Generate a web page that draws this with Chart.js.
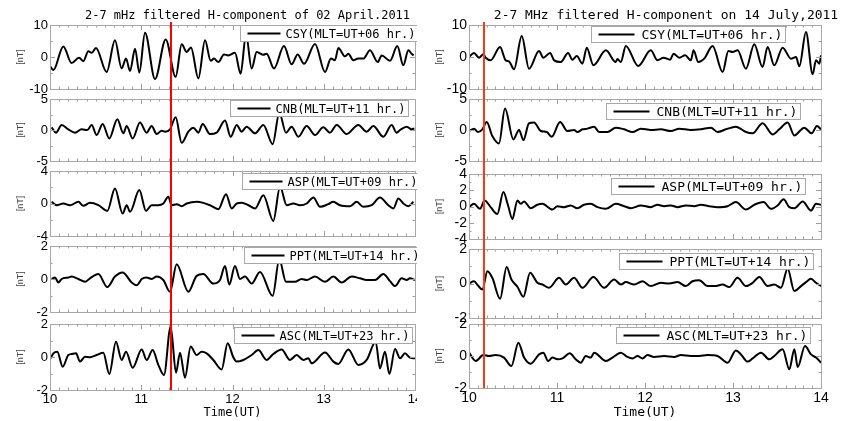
<!DOCTYPE html>
<html>
<head>
<meta charset="utf-8">
<script src="https://cdn.jsdelivr.net/npm/chart.js@4.4.1/dist/chart.umd.min.js"></script>
<style>
  body { margin: 0; background: #fff; }
  #page { position: relative; width: 849px; height: 421px; overflow: hidden; background: #fff; }
  .col { position: absolute; top: 0; height: 421px; overflow: hidden; }
  .col canvas { position: absolute; left: 0; }
</style>
</head>
<body>
<div id="page">
  <div class="col" id="colApr" style="left:0px;width:417px"></div>
  <div class="col" id="colJul" style="left:425px;width:424px"></div>
</div>
<script>
// ---- data (hours UT, nT) ----
const stations = ['CSY(MLT=UT+06 hr.)', 'CNB(MLT=UT+11 hr.)', 'ASP(MLT=UT+09 hr.)', 'PPT(MLT=UT+14 hr.)', 'ASC(MLT=UT+23 hr.)'];
const titleApr = '2-7 mHz filtered H-component of 02 April.2011';
const titleJul = '2-7 MHz filtered H-component on 14 July,2011';
const xLabel = 'Time(UT)';
const yLabel = '[nT]';
const eventApr = 11.33;
const eventJul = 10.17;
const yMaxApr = [10, 5, 4, 2, 2];
const yStepApr = [10, 5, 4, 2, 2];
const yMaxJul = [10, 5, 4, 2, 2];
const yStepJul = [10, 5, 2, 2, 2];

// 02 April 2011
const aprCsyT = [10.007,10.037,10.146,10.237,10.318,10.365,10.420,10.457,10.504,10.621,10.712,10.785,10.833,10.877,10.932,10.979,11.041,11.151,11.268,11.377,11.443,11.498,11.545,11.626,11.699,11.761,11.797,11.845,11.907,11.954,12.027,12.089,12.148,12.210,12.265,12.338,12.374,12.455,12.564,12.648,12.714,12.784,12.904,13.014,13.079,13.123,13.160,13.233,13.269,13.324,13.379,13.434,13.507,13.591,13.635,13.726,13.806,13.872,13.927,13.963,13.985];
const aprCsyV = [-3.1,-4.1,3.3,-1.9,-0.2,-1.3,1.8,1.3,2.8,-4.7,5.2,-3.6,-0.5,-4.4,2.6,-4.9,7.6,-6.9,5.5,-6.2,4.0,1.6,3.0,-6.7,5.2,-1.2,-0.5,-1.6,0.8,0.5,1.3,-5.2,7.0,-3.6,1.6,0.7,1.0,-3.6,3.4,-2.3,0.8,-2.1,4.1,-4.7,-0.5,-1.0,2.8,0.2,1.0,-1.0,-0.5,-0.5,2.1,-1.6,0.5,-1.2,3.4,-2.6,2.1,1.0,0.5];
const aprCnbT = [10.018,10.066,10.128,10.201,10.274,10.347,10.409,10.457,10.511,10.577,10.650,10.738,10.804,10.840,10.906,10.986,11.059,11.114,11.169,11.224,11.260,11.315,11.377,11.443,11.516,11.571,11.626,11.673,11.753,11.826,11.918,11.980,12.046,12.100,12.155,12.247,12.338,12.440,12.513,12.586,12.648,12.721,12.813,12.904,12.995,13.068,13.142,13.251,13.379,13.470,13.543,13.653,13.744,13.799,13.836,13.909,13.963,13.993];
const aprCnbV = [0.43,-0.43,0.82,0.11,-0.43,0.11,0,0.82,-0.82,0.98,-1.36,1.74,-0.54,0.65,-1.36,1.2,-0.43,0.65,-0.65,-0.11,-0.27,0.11,2.07,-2.07,-0.27,0.38,-0.43,0.98,-0.65,-0.43,1.52,-1.09,0.82,-0.27,0.54,-0.54,0.82,-2.28,2.8,-0.43,0.54,-1.09,0.65,-0.82,0.43,-0.43,0.82,-0.65,0.82,-0.27,0.65,-1.09,0.82,-0.43,0,0.54,0.11,0.27];
const aprAspT = [10.018,10.073,10.146,10.219,10.311,10.365,10.438,10.530,10.628,10.712,10.796,10.840,10.877,10.979,11.052,11.114,11.187,11.242,11.297,11.333,11.388,11.443,11.498,11.607,11.680,11.753,11.845,11.929,11.991,12.046,12.100,12.174,12.247,12.338,12.447,12.521,12.594,12.667,12.740,12.813,12.886,12.959,13.050,13.105,13.178,13.288,13.361,13.434,13.525,13.616,13.708,13.763,13.817,13.872,13.927,13.982];
const aprAspV = [0.21,-0.21,0,-0.21,0.21,-0.29,0.08,-0.21,-0.91,1.86,-1.24,-0.21,-1.03,1.65,-0.91,-0.21,-0.21,0,0.82,-0.21,-0.08,-0.33,0,0.21,0.08,-0.21,-0.7,1.15,-0.62,0,0.08,-0.21,-0.62,1.03,-2.14,2.06,-0.21,0,-0.21,0,0.74,-0.41,-0.08,0.21,-0.21,-0.33,0.21,-0.41,-0.21,0.74,-0.21,-0.62,0.62,0,-0.33,0.21];
const aprPptT = [10.018,10.055,10.091,10.128,10.201,10.237,10.311,10.384,10.438,10.530,10.628,10.712,10.796,10.895,10.950,11.005,11.059,11.114,11.169,11.242,11.315,11.388,11.516,11.607,11.680,11.790,11.863,11.918,11.965,12.027,12.082,12.137,12.210,12.301,12.440,12.513,12.586,12.685,12.758,12.813,12.904,13.014,13.105,13.196,13.306,13.397,13.470,13.562,13.653,13.726,13.781,13.854,13.909,13.945,14.0];
const aprPptV = [0,0.09,-0.21,0,0.09,0.15,0,-0.17,0.04,0.3,-0.49,0.15,0.4,-0.21,-0.38,0,0.09,0,0.15,-0.06,-0.77,0.89,-0.77,0.19,0.3,-0.28,-0.06,0.79,-0.34,0.79,0,0.15,-0.28,0.43,-1.02,1.2,-0.17,-0.17,0,-0.06,0.15,-0.17,0.15,-0.21,0.15,0.04,-0.06,-0.06,0.3,-0.13,-0.43,0.04,-0.06,0.04,-0.06];
const aprAscT = [10.007,10.037,10.080,10.139,10.201,10.237,10.285,10.329,10.384,10.438,10.511,10.584,10.650,10.723,10.785,10.833,10.906,11.005,11.059,11.125,11.187,11.249,11.322,11.381,11.425,11.479,11.542,11.607,11.662,11.717,11.790,11.881,11.947,12.009,12.046,12.119,12.210,12.283,12.374,12.447,12.539,12.630,12.703,12.776,12.831,12.868,13.014,13.105,13.160,13.269,13.379,13.470,13.569,13.616,13.671,13.719,13.781,13.836,13.890,13.945,14.0];
const aprAscV = [-0.08,0.22,0.32,-0.59,0.12,0.18,0.22,-0.28,0.02,-0.02,0.12,0.26,-1.03,0.93,-0.18,0.32,-0.65,0.46,-0.18,0.42,-0.48,-1.09,1.84,-0.95,0.26,-1.25,0.63,0.12,0.32,0.22,-0.18,-0.75,0.83,-0.02,-0.28,-0.18,0.12,0.42,-0.18,0.18,0.46,-0.18,0.12,-0.18,-0.08,-0.38,0.28,-0.28,-0.42,0.46,-0.48,-0.18,0.93,-0.69,0.32,-1.03,0.48,-0.08,0.22,-0.04,-0.08];

// 14 July 2011
const julCsyT = [10.0,10.057,10.114,10.163,10.190,10.246,10.353,10.417,10.455,10.512,10.599,10.682,10.796,10.845,10.921,10.967,11.043,11.126,11.175,11.225,11.289,11.338,11.414,11.555,11.668,11.687,11.725,11.782,11.922,12.066,12.142,12.210,12.286,12.324,12.389,12.457,12.521,12.552,12.605,12.673,12.768,12.882,12.947,12.995,13.052,13.147,13.242,13.336,13.393,13.469,13.564,13.659,13.716,13.754,13.829,13.905,13.943,13.981,14.0];
const julCsyV = [0,1.25,-0.21,0.83,-0.21,-1.04,3.13,-1.04,-1.35,-3.85,6.56,-3.65,1.88,-0.21,1.25,-1.04,-1.56,1.25,-0.83,0.31,-2.08,2.92,-2.6,2.08,-1.56,-0.63,-1.56,3.44,-2.81,2.08,-1.04,-0.21,-0.83,1.04,-0.21,0.52,-1.04,2.08,-1.56,-0.52,3.44,-4.69,1.88,1.56,2.08,-3.65,3.96,-3.13,3.13,-2.6,2.92,-0.52,0,-2.92,7.81,-5.42,-1.04,-2.08,0.52];
const julCnbT = [10.0,10.057,10.102,10.152,10.201,10.265,10.341,10.409,10.504,10.569,10.618,10.682,10.739,10.815,10.883,10.940,11.035,11.118,11.194,11.232,11.289,11.346,11.422,11.479,11.573,11.668,11.763,11.858,11.953,12.066,12.180,12.294,12.389,12.521,12.635,12.749,12.825,12.919,13.033,13.147,13.223,13.336,13.450,13.526,13.621,13.697,13.810,13.894,13.954,14.0];
const julCnbV = [-0.16,0.22,-0.33,0.11,1.3,-0.98,-2.17,3.48,-1.52,0,-1.63,1.09,1.2,-0.16,-0.33,-1.09,1.3,-0.16,0,-0.33,0.11,0.22,0.54,-0.33,-0.33,0.38,0.11,-0.33,0.22,0,0.11,-0.16,0.22,0,0.11,0.38,-0.33,0.11,0.54,-0.33,-0.54,1.09,-0.71,0.11,1.2,-0.87,0.38,-0.54,0.65,0.11];
const julAspT = [10.0,10.057,10.125,10.178,10.246,10.322,10.391,10.444,10.493,10.550,10.588,10.626,10.701,10.777,10.834,10.948,11.005,11.081,11.156,11.232,11.308,11.384,11.460,11.555,11.668,11.763,11.839,11.953,12.066,12.142,12.218,12.294,12.370,12.464,12.559,12.635,12.730,12.825,12.938,13.033,13.147,13.242,13.348,13.431,13.507,13.575,13.640,13.697,13.792,13.886,13.943,14.0];
const julAspV = [-0.08,0.33,-0.29,0.75,-0.08,-0.92,1.79,0.13,-1.54,0.75,0.33,0.63,-0.21,0.21,0.33,-0.38,0.04,-0.08,0.13,-0.21,0.21,0.33,-0.08,-0.29,0.33,0.04,-0.21,0.13,-0.08,0.21,0.04,0.13,-0.08,0.13,0.04,0.21,0.04,-0.08,0.04,0.54,-0.38,0.21,0.54,-0.29,0.13,0.88,-0.08,-0.21,0.63,-0.5,0.33,0.21];
const julPptT = [10.0,10.057,10.102,10.152,10.209,10.265,10.353,10.428,10.482,10.550,10.618,10.694,10.777,10.834,10.910,11.024,11.100,11.194,11.289,11.414,11.536,11.649,11.725,11.782,11.877,11.972,12.066,12.180,12.275,12.370,12.464,12.540,12.616,12.711,12.806,12.882,12.957,13.052,13.147,13.223,13.299,13.393,13.469,13.545,13.621,13.697,13.773,13.829,13.886,13.943,14.0];
const julPptV = [0,0.13,-0.12,-0.35,0.71,0.33,-0.88,0.96,0.23,-0.19,-0.77,0.62,0.04,-0.06,-0.25,0.33,-0.06,0.33,-0.25,0.37,-0.25,0.23,-0.06,0.08,-0.06,0.13,-0.15,0.04,0,0.08,-0.15,0.13,0.19,-0.15,-0.15,-0.06,-0.21,0.33,-0.15,0.04,0.38,-0.15,-0.06,-0.25,0.85,-0.44,-0.15,0.08,0.27,0.04,-0.15];
const julAscT = [10.0,10.076,10.163,10.227,10.303,10.398,10.482,10.561,10.626,10.701,10.796,10.845,10.899,10.948,11.005,11.062,11.145,11.213,11.270,11.327,11.384,11.422,11.555,11.630,11.725,11.801,11.858,11.915,11.972,12.028,12.104,12.218,12.332,12.408,12.521,12.616,12.711,12.825,12.938,13.033,13.090,13.166,13.223,13.318,13.412,13.469,13.564,13.640,13.697,13.735,13.818,13.886,13.943,14.0];
const julAscV = [0.21,-0.31,0.06,0,0.06,-0.1,-0.63,0.83,-0.1,-0.48,0.1,0.21,-0.31,-0.1,-0.21,-0.15,0.17,-0.21,-0.42,0,-0.1,0.21,-0.31,-0.1,0.21,-0.06,-0.15,0,-0.15,0.06,-0.06,0,-0.06,0.06,0,0,0.06,0,-0.42,0.35,0.1,-0.35,-0.15,0.21,-0.21,0,0.42,-0.83,0.42,-0.69,0.63,0.1,-0.1,-0.42];

// ---- layout of the two figure columns ----
const MONO = "'DejaVu Sans Mono', monospace";
const SANS = "'Liberation Sans', Arial, sans-serif";

const cols = [
  {
    el: 'colApr', left: 0, width: 417, plotLeft: 50, plotRight: 415,
    tops: [25, 99, 171, 246, 324], bottoms: [89, 161, 236, 312, 390],
    times: [aprCsyT, aprCnbT, aprAspT, aprPptT, aprAscT],
    values: [aprCsyV, aprCnbV, aprAspV, aprPptV, aprAscV],
    yMax: yMaxApr, yStep: yStepApr, event: eventApr, eventColor: '#ff0000',
    title: titleApr, titleShift: 15, monoSize: 12, tickSize: 13, nTPad: 15,
    boxDx: [190, 180, 192, 194, 184], boxDy: [0, 1, 2, 1, 3],
    lineX: 7, lineLen: 33, textX: 45
  },
  {
    el: 'colJul', left: 425, width: 424, plotLeft: 469, plotRight: 821,
    tops: [25, 99, 174, 249, 324], bottoms: [89, 161, 239, 318, 388],
    times: [julCsyT, julCnbT, julAspT, julPptT, julAscT],
    values: [julCsyV, julCnbV, julAspV, julPptV, julAscV],
    yMax: yMaxJul, yStep: yStepJul, event: eventJul, eventColor: '#f83a14',
    title: titleJul, titleShift: 21, monoSize: 13, tickSize: 14, nTPad: 9,
    boxDx: [122, 137, 142, 150, 147], boxDy: [1, 4, 4, 4, 3],
    lineX: 7, lineLen: 36, textX: 50
  }
];

// frame with inward ticks, event marker, boxed legend, figure title
const panelDeco = {
  id: 'panelDeco',
  afterDatasetsDraw(chart, args, o) {
    const ctx = chart.ctx, a = chart.chartArea;
    const xs = chart.scales.x, ys = chart.scales.y;
    ctx.save();

    ctx.strokeStyle = '#9e9e9e';
    ctx.lineWidth = 1;
    ctx.beginPath();
    for (let i = 0; i <= 40; i++) {
      const px = Math.round(xs.getPixelForValue(10 + i / 10)) + 0.5;
      const len = i % 10 === 0 ? 5 : 2.5;
      ctx.moveTo(px, a.top); ctx.lineTo(px, a.top + len);
      ctx.moveTo(px, a.bottom); ctx.lineTo(px, a.bottom - len);
    }
    const minor = o.yStep / 2;
    const n = Math.round((ys.max - ys.min) / minor);
    for (let j = 0; j <= n; j++) {
      const v = ys.min + j * minor;
      const py = Math.round(ys.getPixelForValue(v)) + 0.5;
      const len = j % 2 === 0 ? 5 : 2.5;
      ctx.moveTo(a.left, py); ctx.lineTo(a.left + len, py);
      ctx.moveTo(a.right, py); ctx.lineTo(a.right - len, py);
    }
    ctx.stroke();
    ctx.strokeStyle = '#a8a8a8';
    ctx.strokeRect(Math.round(a.left) + 0.5, Math.round(a.top) + 0.5, Math.round(a.width), Math.round(a.height));

    // event line runs through the gaps between panels
    const ex = Math.round(xs.getPixelForValue(o.event));
    ctx.strokeStyle = o.eventColor;
    ctx.lineWidth = 2;
    ctx.beginPath();
    ctx.moveTo(ex, o.first ? a.top - 3 : 0);
    ctx.lineTo(ex, o.last ? a.bottom : chart.height);
    ctx.stroke();

    // legend box
    ctx.font = o.monoSize + 'px ' + MONO;
    const tw = ctx.measureText(o.label).width;
    const bx = Math.round(a.left + o.boxDx) + 0.5;
    const by = Math.round(a.top + o.boxDy) + 0.5;
    const bw = Math.round(o.textX + tw + 3), bh = 16;
    ctx.fillStyle = '#fff';
    ctx.fillRect(bx, by, bw, bh);
    ctx.strokeStyle = '#a8a8a8';
    ctx.lineWidth = 1;
    ctx.strokeRect(bx, by, bw, bh);
    ctx.strokeStyle = '#000';
    ctx.lineWidth = 2;
    ctx.beginPath();
    ctx.moveTo(bx + o.lineX, by + bh / 2);
    ctx.lineTo(bx + o.lineX + o.lineLen, by + bh / 2);
    ctx.stroke();
    ctx.fillStyle = '#000';
    ctx.textBaseline = 'middle';
    ctx.fillText(o.label, bx + o.textX, by + bh / 2 + 1);

    if (o.first) {
      ctx.textAlign = 'center';
      ctx.textBaseline = 'alphabetic';
      ctx.fillText(o.title, (a.left + a.right) / 2 + o.titleShift, 19);
    }
    ctx.restore();
  }
};

function addPanel(col, k) {
  const first = k === 0, last = k === 4;
  const top = first ? 0 : col.tops[k] - 10;
  const bottom = last ? 421 : col.bottoms[k] + 10;
  const c = document.createElement('canvas');
  c.width = col.width;
  c.height = bottom - top;
  c.style.top = top + 'px';
  document.getElementById(col.el).appendChild(c);

  const T = col.times[k], V = col.values[k];
  const pts = T.map((t, i) => ({ x: t, y: V[i] }));

  new Chart(c, {
    type: 'line',
    data: {
      datasets: [{
        label: stations[k],
        data: pts,
        borderColor: '#000',
        borderWidth: 2,
        pointRadius: 0,
        fill: false,
        cubicInterpolationMode: 'monotone'
      }]
    },
    options: {
      responsive: false,
      animation: false,
      events: [],
      layout: {
        padding: {
          top: col.tops[k] - top,
          bottom: last ? 0 : 10,
          left: 0,
          right: col.width - (col.plotRight - col.left)
        }
      },
      plugins: {
        legend: { display: false },
        tooltip: { enabled: false },
        panelDeco: {
          first: first, last: last, event: col.event, eventColor: col.eventColor,
          yStep: col.yStep[k], label: stations[k], monoSize: col.monoSize,
          boxDx: col.boxDx[k], boxDy: col.boxDy[k],
          lineX: col.lineX, lineLen: col.lineLen, textX: col.textX,
          title: col.title, titleShift: col.titleShift
        }
      },
      scales: {
        x: {
          type: 'linear', min: 10, max: 14, display: last,
          grid: { display: false, drawTicks: false }, border: { display: false },
          ticks: { stepSize: 1, autoSkip: false, maxRotation: 0, padding: 2, color: '#000',
                   font: { family: SANS, size: col.tickSize } },
          title: { display: true, text: xLabel, color: '#000', padding: { top: 0, bottom: 1 },
                   font: { family: MONO, size: col.monoSize } },
          afterFit: s => {
            s.height = last ? 421 - col.bottoms[k] : 0;
            s.paddingLeft = 0; s.paddingRight = 0;
          }
        },
        y: {
          type: 'linear', min: -col.yMax[k], max: col.yMax[k],
          grid: { display: false, drawTicks: false }, border: { display: false },
          ticks: { stepSize: col.yStep[k], autoSkip: false, padding: 2, color: '#000',
                   font: { family: SANS, size: col.tickSize } },
          title: { display: true, text: yLabel, color: '#444', padding: { top: col.nTPad, bottom: 0 },
                   font: { family: SANS, size: 9 } },
          afterFit: s => { s.width = col.plotLeft - col.left; s.paddingTop = 0; s.paddingBottom = 0; }
        }
      }
    },
    plugins: [panelDeco]
  });
}

cols.forEach(col => { for (let k = 0; k < 5; k++) addPanel(col, k); });
</script>
</body>
</html>
